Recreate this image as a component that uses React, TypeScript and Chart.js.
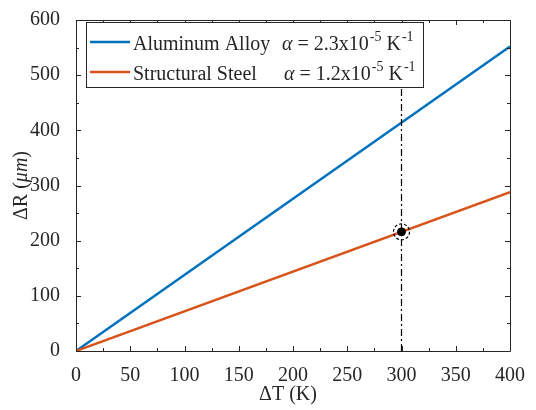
import React, { useEffect, useRef } from "react";
import { Chart, registerables } from "chart.js";

Chart.register(...registerables);

// ---- data ----
const deltaT = [0, 400];
const aluminumR = [0, 552];
const steelR = [0, 288];
const refLineT = [300, 300];
const refLineR = [0, 600];
const markerT = [300];
const markerR = [216];
const xTickValues = [0, 50, 100, 150, 200, 250, 300, 350, 400];
const yTickValues = [0, 100, 200, 300, 400, 500, 600];
const seriesNames = ["Aluminum Alloy", "Structural Steel"];
const alphaCoeffs = ["2.3", "1.2"];
const seriesColors = ["#0072BD", "#D95319"];

const FAM = "'Liberation Serif'";
const FS = 20;
const SUP = 14;
const AXIS = "#262626";

const decoPlugin = {
  id: "deco",
  afterDatasetsDraw(chart: any) {
    const { ctx, chartArea: a, scales } = chart;
    const xs = scales.x;
    const ys = scales.y;
    ctx.save();
    ctx.strokeStyle = AXIS;
    ctx.lineWidth = 1;
    ctx.beginPath();
    ctx.rect(Math.round(a.left) + 0.5, Math.round(a.top) + 0.5, Math.round(a.right - a.left), Math.round(a.bottom - a.top));
    ctx.stroke();
    ctx.beginPath();
    for (let v = 0; v <= 400; v += 25) {
      const px = Math.round(xs.getPixelForValue(v)) + 0.5;
      const len = v % 50 === 0 ? 5 : 3;
      ctx.moveTo(px, a.bottom);
      ctx.lineTo(px, a.bottom - len);
      ctx.moveTo(px, a.top);
      ctx.lineTo(px, a.top + len);
    }
    for (let v = 0; v <= 600; v += 50) {
      const py = Math.round(ys.getPixelForValue(v)) + 0.5;
      const len = v % 100 === 0 ? 5 : 3;
      ctx.moveTo(a.left, py);
      ctx.lineTo(a.left + len, py);
      ctx.moveTo(a.right, py);
      ctx.lineTo(a.right - len, py);
    }
    ctx.stroke();

    const mx = xs.getPixelForValue(markerT[0]);
    const my = ys.getPixelForValue(markerR[0]);
    ctx.setLineDash([3, 2]);
    ctx.strokeStyle = "#000";
    ctx.lineWidth = 1.2;
    ctx.beginPath();
    ctx.arc(mx, my, 8, 0, Math.PI * 2);
    ctx.stroke();
    ctx.setLineDash([]);

    const lx = 86, ly = 22, lw = 337, lh = 65;
    ctx.fillStyle = "#fff";
    ctx.fillRect(lx, ly, lw, lh);
    ctx.strokeStyle = AXIS;
    ctx.lineWidth = 1;
    ctx.strokeRect(lx + 0.5, ly + 0.5, lw, lh);
    const rows = [42, 72];
    const alphaX = [282, 284];
    seriesNames.forEach((name, i) => {
      const y = rows[i];
      ctx.strokeStyle = seriesColors[i];
      ctx.lineWidth = 2.5;
      ctx.beginPath();
      ctx.moveTo(90, y);
      ctx.lineTo(130, y);
      ctx.stroke();
      ctx.fillStyle = AXIS;
      ctx.textBaseline = "alphabetic";
      ctx.textAlign = "left";
      const base = y + 8;
      ctx.font = `${FS}px ${FAM}`;
      ctx.fillText(name, 133, base);
      let x = alphaX[i];
      ctx.font = `italic ${FS}px ${FAM}`;
      ctx.fillText("\u03B1", x, base);
      x += ctx.measureText("\u03B1").width;
      ctx.font = `${FS}px ${FAM}`;
      const t1 = ` = ${alphaCoeffs[i]}x10`;
      ctx.fillText(t1, x, base);
      x += ctx.measureText(t1).width;
      ctx.font = `${SUP}px ${FAM}`;
      ctx.fillText("-5", x + 1, base - 9);
      x += ctx.measureText("-5").width + 1;
      ctx.font = `${FS}px ${FAM}`;
      ctx.fillText(" K", x, base);
      x += ctx.measureText(" K").width;
      ctx.font = `${SUP}px ${FAM}`;
      ctx.fillText("-1", x + 1, base - 9);
    });

    ctx.fillStyle = AXIS;
    ctx.font = `${FS}px ${FAM}`;
    ctx.textAlign = "center";
    ctx.textBaseline = "middle";
    ctx.fillText("\u0394T (K)", 288, 395);

    ctx.save();
    ctx.translate(22, (a.top + a.bottom) / 2);
    ctx.rotate(-Math.PI / 2);
    const p1 = "\u0394R (";
    const p2 = "\u03BCm";
    const p3 = ")";
    ctx.font = `${FS}px ${FAM}`;
    const w1 = ctx.measureText(p1).width;
    const w3 = ctx.measureText(p3).width;
    ctx.font = `italic ${FS}px ${FAM}`;
    const w2 = ctx.measureText(p2).width;
    let sx = -(w1 + w2 + w3) / 2;
    ctx.textAlign = "left";
    ctx.font = `${FS}px ${FAM}`;
    ctx.fillText(p1, sx, 0);
    sx += w1;
    ctx.font = `italic ${FS}px ${FAM}`;
    ctx.fillText(p2, sx, 0);
    sx += w2;
    ctx.font = `${FS}px ${FAM}`;
    ctx.fillText(p3, sx, 0);
    ctx.restore();

    ctx.restore();
  },
};

export default function App() {
  const ref = useRef<HTMLCanvasElement | null>(null);
  useEffect(() => {
    document.body.style.margin = "0";
    const canvas = ref.current!;
    const toPts = (xsArr: number[], ysArr: number[]) => xsArr.map((x, i) => ({ x, y: ysArr[i] }));
    const chart = new Chart(canvas, {
      type: "scatter",
      data: {
        datasets: [
          { label: seriesNames[0], data: toPts(deltaT, aluminumR), showLine: true, borderColor: seriesColors[0], borderWidth: 2.5, pointRadius: 0, order: 3 },
          { label: seriesNames[1], data: toPts(deltaT, steelR), showLine: true, borderColor: seriesColors[1], borderWidth: 2.5, pointRadius: 0, order: 2 },
          { label: "ref", data: toPts(refLineT, refLineR), showLine: true, borderColor: "#000", borderWidth: 1.2, borderDash: [7, 3, 2, 3], pointRadius: 0, order: 1 },
          { label: "marker", data: toPts(markerT, markerR), showLine: false, backgroundColor: "#000", borderColor: "#000", pointRadius: 4, order: 0 },
        ],
      },
      options: {
        animation: false,
        responsive: false,
        events: [],
        font: { family: FAM, size: FS },
        layout: { padding: { top: 12, right: 26, left: 0, bottom: 0 } },
        plugins: { legend: { display: false }, tooltip: { enabled: false } },
        scales: {
          x: {
            type: "linear", min: 0, max: 400,
            grid: { display: false }, border: { display: false },
            afterFit: (s: any) => { s.height = 59; },
            afterBuildTicks: (s: any) => { s.ticks = xTickValues.map((v) => ({ value: v })); },
            ticks: { color: AXIS, padding: 5, maxRotation: 0, autoSkip: false, font: { family: FAM, size: FS } },
          },
          y: {
            type: "linear", min: 0, max: 600,
            grid: { display: false }, border: { display: false },
            afterFit: (s: any) => { s.width = 76; },
            afterBuildTicks: (s: any) => { s.ticks = yTickValues.map((v) => ({ value: v })); },
            ticks: { color: AXIS, padding: 8, autoSkip: false, font: { family: FAM, size: FS } },
          },
        },
      },
      plugins: [decoPlugin],
    });
    return () => chart.destroy();
  }, []);
  return (
    <div style={{ width: 536, height: 410 }}>
      <canvas ref={ref} width={536} height={410} style={{ display: "block" }} />
    </div>
  );
}
